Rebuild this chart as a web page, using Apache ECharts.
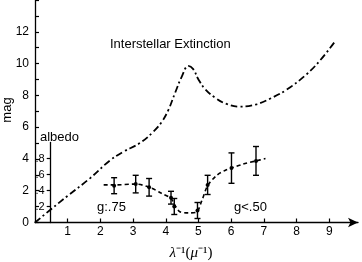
<!DOCTYPE html>
<html><head><meta charset="utf-8">
<script src="https://cdn.jsdelivr.net/npm/echarts@6/dist/echarts.min.js"></script>
<style>html,body{margin:0;padding:0;background:#fff}#c{width:362px;height:262px}</style>
</head><body><div id="c"></div>
<script>
// Extinction curve (mag vs 1/lambda)
const extX = [0,0.5,1.0,1.68,2.29,2.7,3.21,3.62,3.88,4.08,4.28,4.49,4.69,4.84,5.0,5.2,5.51,5.86,6.27,6.78,7.2,7.7,8.31,8.72,9.17];
const extY = [0,0.85,1.68,2.78,3.9,4.45,5.0,5.71,6.34,7.08,8.13,9.18,9.85,9.65,9.0,8.4,7.85,7.46,7.29,7.44,7.8,8.36,9.33,10.2,11.37];
// Albedo measurements
const albX = [2.42,3.08,3.49,4.16,4.26,4.97,5.28,6.01,6.76];
const albY = [0.46,0.48,0.44,0.31,0.20,0.15,0.47,0.68,0.77];
const albErr = [0.10,0.11,0.11,0.08,0.10,0.10,0.12,0.19,0.18];
// Albedo fit curve
const fitX = [2.1,2.42,3.08,3.5,3.87,4.16,4.3,4.43,4.7,4.94,5.1,5.28,5.56,5.81,6.01,6.37,6.76,7.05];
const fitY = [0.47,0.47,0.48,0.44,0.365,0.30,0.2,0.135,0.12,0.13,0.27,0.46,0.59,0.65,0.68,0.73,0.77,0.80];
// Tick labels
const xTicks = [1,2,3,4,5,6,7,8,9];
const albTicks = [0.2,0.4,0.6,0.8];

const FONT = 'Liberation Sans';
const chart = echarts.init(document.getElementById('c'));
const zip = (a,b) => a.map((v,i)=>[v,b[i]]);
chart.setOption({
  animation:false,
  backgroundColor:'#fff',
  grid:[
    {left:35, right:4, top:0, bottom:39.5, outerBoundsMode:'none'},
    {left:50.7, right:4, top:142.5, bottom:39.5, outerBoundsMode:'none'}
  ],
  xAxis:[
    {gridIndex:0, type:'value', min:0, max:9.88,
     axisLine:{show:true, symbol:['none','arrow'], symbolSize:[7,10], lineStyle:{color:'#000', width:1.3}},
     axisTick:{show:true, inside:true, length:4, customValues:xTicks, lineStyle:{color:'#000', width:1.2}},
     axisLabel:{show:true, customValues:xTicks, margin:3, fontFamily:FONT, fontSize:12, color:'#000'},
     splitLine:{show:false}},
    {gridIndex:1, type:'value', min:0.48, max:9.88, show:false}
  ],
  yAxis:[
    {gridIndex:0, type:'value', min:0, max:14, interval:2,
     axisLine:{show:true, lineStyle:{color:'#000', width:1.3}},
     axisTick:{show:true, inside:true, length:4, lineStyle:{color:'#000', width:1.2}},
     minorTick:{show:true, splitNumber:2, length:4, lineStyle:{color:'#000', width:1.2}},
     axisLabel:{margin:6, fontFamily:FONT, fontSize:12, color:'#000', formatter:v=> v===14?'':String(v)},
     splitLine:{show:false}},
    {gridIndex:1, type:'value', min:0, max:1, interval:0.2,
     axisLine:{show:true, lineStyle:{color:'#000', width:1.3}},
     axisTick:{show:true, inside:false, length:4, customValues:albTicks, lineStyle:{color:'#000', width:1.2}},
     axisLabel:{margin:6, customValues:albTicks, fontFamily:FONT, fontSize:11, color:'#000', formatter:v=>'.'+Math.round(v*10)},
     splitLine:{show:false}}
  ],
  graphic:[
    {type:'text', x:110, y:44, style:{text:'Interstellar Extinction', font:'13px "Liberation Sans"', fill:'#000', textVerticalAlign:'middle'}},
    {type:'text', x:97, y:207, style:{text:'g:.75', font:'13px "Liberation Sans"', fill:'#000', textVerticalAlign:'middle'}},
    {type:'text', x:234, y:207, style:{text:'g<.50', font:'13px "Liberation Sans"', fill:'#000', textVerticalAlign:'middle'}},
    {type:'text', x:40, y:137, style:{text:'albedo', font:'13px "Liberation Sans"', fill:'#000', textVerticalAlign:'middle'}},
    {type:'text', x:7, y:110, rotation:Math.PI/2, style:{text:'mag', font:'13px "Liberation Sans"', fill:'#000', textAlign:'center', textVerticalAlign:'middle'}},
    {type:'text', x:191, y:253, style:{text:'{i|λ}{n|⁻¹(}{i|μ}{n|⁻¹)}', textAlign:'center', textVerticalAlign:'middle', fill:'#000',
      rich:{i:{fontFamily:'Liberation Serif', fontStyle:'italic', fontSize:15, fill:'#000'}, n:{fontFamily:'Liberation Serif', fontSize:15, fill:'#000'}}}}
  ],
  series:[
    {type:'line', xAxisIndex:0, yAxisIndex:0, data:zip(extX,extY), showSymbol:false, smooth:0.4,
     lineStyle:{color:'#000', width:1.8, type:[7,3,2,3]}},
    {type:'line', xAxisIndex:1, yAxisIndex:1, data:zip(fitX,fitY), showSymbol:false, smooth:0.3,
     lineStyle:{color:'#000', width:1.6, type:[4,3]}},
    {type:'custom', xAxisIndex:1, yAxisIndex:1,
     data: albX.map((x,i)=>[x, albY[i], albErr[i]]),
     renderItem:(params, api)=>{
       const x=api.value(0), y=api.value(1), e=api.value(2);
       const t=api.coord([x,y+e]), b=api.coord([x,y-e]), c=api.coord([x,y]);
       const w=3, st={stroke:'#000', lineWidth:1.4};
       return {type:'group', children:[
         {type:'line', shape:{x1:t[0],y1:t[1],x2:b[0],y2:b[1]}, style:st},
         {type:'line', shape:{x1:t[0]-w,y1:t[1],x2:t[0]+w,y2:t[1]}, style:st},
         {type:'line', shape:{x1:b[0]-w,y1:b[1],x2:b[0]+w,y2:b[1]}, style:st},
         {type:'circle', shape:{cx:c[0],cy:c[1],r:2}, style:{fill:'#000'}}
       ]};
     }}
  ]
});
</script></body></html>
